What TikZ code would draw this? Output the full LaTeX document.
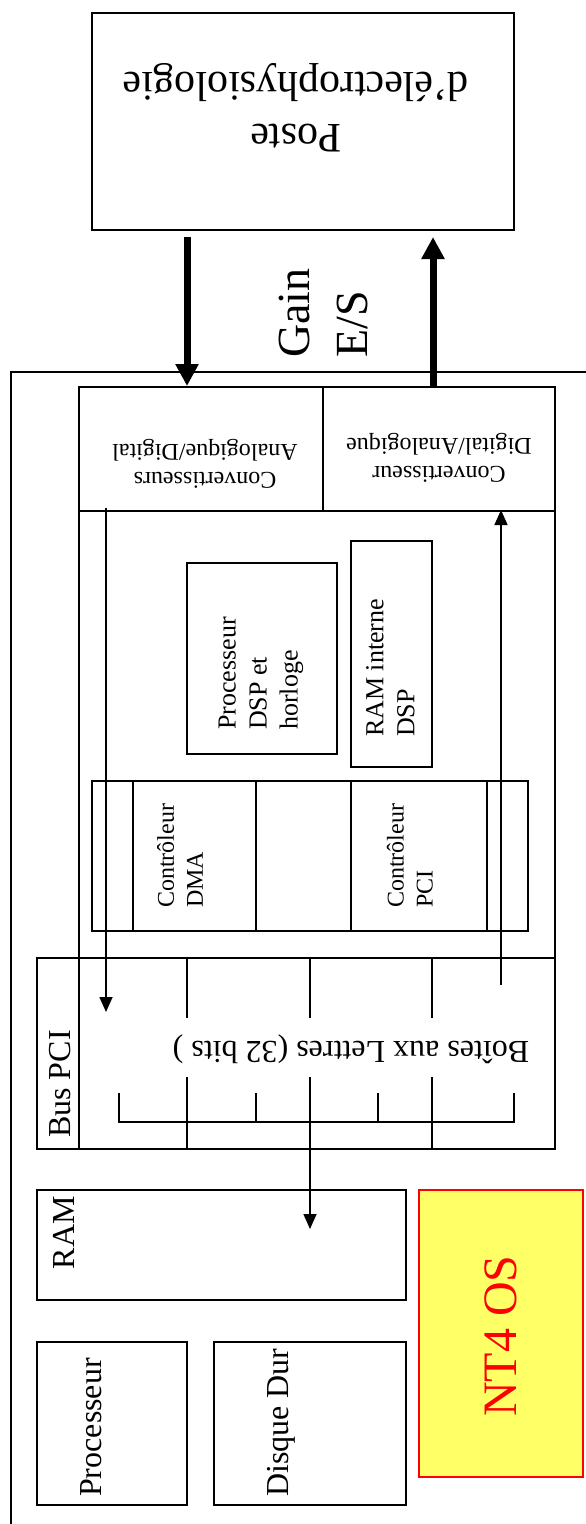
\documentclass[tikz,border=0pt]{standalone}
\usepackage{fontspec}
\setmainfont{Liberation Serif}
\usetikzlibrary{arrows.meta}
\definecolor{ntyellow}{RGB}{255,255,102}

\begin{document}
\begin{tikzpicture}[x=1pt, y=-1pt,
    box/.style={draw, line width=1.6pt, inner sep=0pt, outer sep=0pt},
    txt/.style={inner sep=0pt, align=left},
    bigarrow/.style={line width=7pt, -{Triangle[length=22pt,width=22pt]}},
    thinarrow/.style={line width=1.6pt, -{Triangle[length=15pt,width=13pt]}}]
    \useasboundingbox (0,0) rectangle (586,1524);
    % poste
    \node[box, minimum width=422pt, minimum height=217pt] (poste) at (303,121.5) {};
    \node[txt, align=center, rotate=180, font=\fontsize{42}{52}\selectfont] (postetxt) at (296,108) {Poste\\d'électrophysiologie};
    \node[txt, rotate=90, anchor=west, font=\fontsize{46}{58}\selectfont] (gain) at (323,358) {Gain\\E/S};
    % PC
    \draw[line width=1.4pt] (586,372) -- (11,372) -- (11,1524);
    % carte DSP
    \node[box, minimum width=476pt, minimum height=762pt] (board) at (317,768) {};
    \node[box, minimum width=244pt, minimum height=124pt] (adc) at (201,449) {};
    \node[box, minimum width=232pt, minimum height=124pt] (dac) at (439,449) {};
    \node[txt, align=center, rotate=180, font=\fontsize{24}{28}\selectfont] (adctxt) at (205,464) {Convertisseurs\\Analogique/Digital};
    \node[txt, align=center, rotate=180, font=\fontsize{24}{28}\selectfont] (dactxt) at (439,458) {Convertisseur\\Digital/Analogique};
    \node[box, minimum width=150pt, minimum height=191pt] (dsp) at (262,658.5) {};
    \node[txt, rotate=90, anchor=west, font=\fontsize{26}{31}\selectfont] (dsptxt) at (261,730) {Processeur\\DSP et\\horloge};
    \node[box, minimum width=81pt, minimum height=226pt] (ramdsp) at (391.5,654) {};
    \node[txt, rotate=90, anchor=west, font=\fontsize{26}{31}\selectfont] (ramdsptxt) at (390.5,737) {RAM interne\\DSP};
    \node[box, minimum width=436pt, minimum height=150pt] (ctrl) at (310,856) {};
    \node[box, minimum width=123pt, minimum height=150pt] (dma) at (194.5,856) {};
    \node[box, minimum width=136pt, minimum height=150pt] (pcictl) at (419,856) {};
    \node[txt, rotate=90, anchor=west, font=\fontsize{24}{29}\selectfont] (dmatxt) at (180,908) {Contrôleur\\DMA};
    \node[txt, rotate=90, anchor=west, font=\fontsize{24}{29}\selectfont] (pcitxt) at (410,908) {Contrôleur\\PCI};
    % bus PCI
    \node[box, minimum width=42pt, minimum height=191pt] (buslbl) at (58,1053.5) {};
    \node[box, minimum width=476pt, minimum height=191pt] (mbox) at (317,1053.5) {};
    \node[txt, rotate=90, anchor=west, font=\fontsize{32}{38}\selectfont] (bustxt) at (60.5,1138) {Bus PCI};
    \node[txt, rotate=180, font=\fontsize{32}{38}\selectfont] (mboxtxt) at (351,1049) {Boîtes aux Lettres (32 bits )};
    \foreach \x in {187,432}
        \draw[line width=1.6pt] (\x,958) -- (\x,1018) (\x,1077) -- (\x,1149);
    \draw[line width=1.6pt] (310,958) -- (310,1018);
    \draw[line width=1.6pt] (119,1093) -- (119,1122) -- (514,1122) -- (514,1093);
    \foreach \x in {256,378}
        \draw[line width=1.6pt] (\x,1093) -- (\x,1122);
    % PC
    \node[box, minimum width=369pt, minimum height=110pt] (ram) at (221.5,1245) {};
    \node[txt, rotate=90, anchor=east, font=\fontsize{32}{38}\selectfont] (ramtxt) at (64,1196) {RAM};
    \node[box, minimum width=150pt, minimum height=163pt] (cpu) at (112,1423.5) {};
    \node[txt, rotate=90, anchor=west, font=\fontsize{32}{38}\selectfont] (cputxt) at (91.5,1497) {Processeur};
    \node[box, minimum width=192pt, minimum height=163pt] (disk) at (310,1423.5) {};
    \node[txt, rotate=90, anchor=west, font=\fontsize{32}{38}\selectfont] (disktxt) at (281,1497) {Disque Dur};
    \node[box, draw=red, fill=ntyellow, minimum width=164pt, minimum height=287pt] (nt) at (501,1333.5) {};
    \node[txt, rotate=90, text=red, font=\fontsize{48}{56}\selectfont] (nttxt) at (501,1336) {NT4 OS};
    % fleches
    \coordinate (gin) at (187,237);
    \coordinate (gout) at (433,237);
    \draw[bigarrow, shorten >=1pt] (gin) -- (gin |- adc.north);
    \draw[bigarrow] (gout |- dac.north) -- (gout);
    \coordinate (adcout) at (106,508);
    \coordinate (mboxin) at (106,1012);
    \draw[thinarrow] (adcout) -- (mboxin);
    \coordinate (mboxout) at (501,985);
    \coordinate (dacin) at (501,510);
    \draw[thinarrow] (mboxout) -- (dacin);
    \coordinate (busout) at (310,1077);
    \coordinate (ramin) at (310,1229);
    \draw[thinarrow] (busout) -- (ramin);
\end{tikzpicture}
\end{document}
